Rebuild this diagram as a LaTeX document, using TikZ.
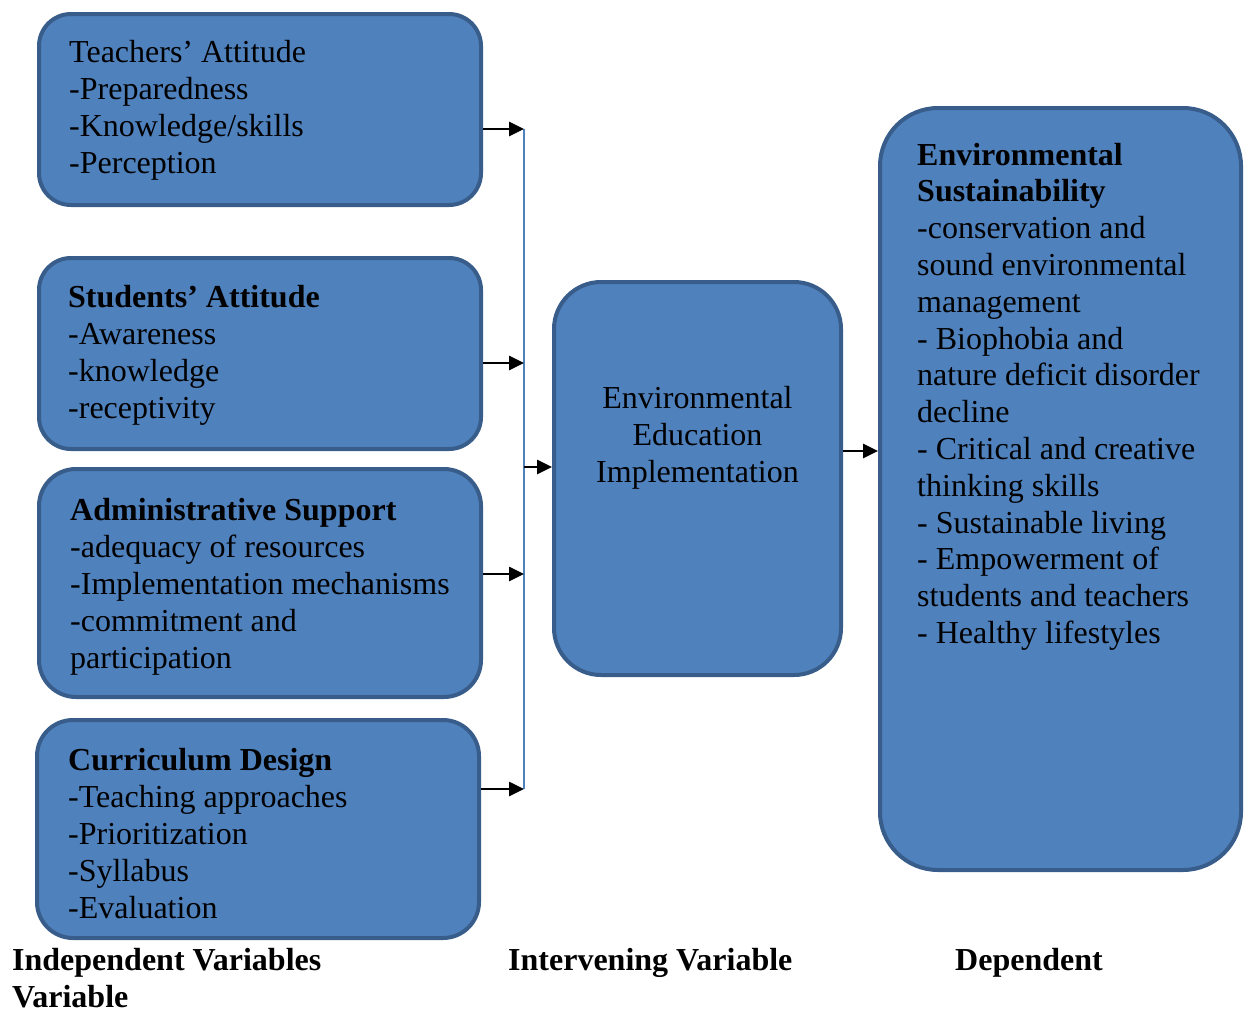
\documentclass[tikz,border=0pt]{standalone}
\usepackage{fontspec}
\setmainfont{Liberation Serif}
\usetikzlibrary{arrows.meta}
\definecolor{boxfill}{HTML}{4F81BD}
\definecolor{boxline}{HTML}{385D8A}
\newcommand{\stack}[1]{\begin{tabular}[t]{@{}l@{}}#1\end{tabular}}
\newcommand{\cstack}[1]{\begin{tabular}[t]{@{}c@{}}#1\end{tabular}}
\begin{document}
\begin{tikzpicture}[x=1pt,y=-1pt,
  panel/.style={draw=boxline, fill=boxfill, line width=4pt, inner sep=0pt},
  txt/.style={inner sep=0pt, anchor=base west, font=\fontsize{32}{37}\selectfont},
  caption/.style={inner sep=0pt, anchor=base west, font=\fontsize{32}{37}\selectfont\bfseries},
  arr/.style={line width=2.6pt, -{Triangle[length=15pt,width=14pt]}},
  spine/.style={draw=boxfill, line width=2pt}]
\useasboundingbox (0,0) rectangle (1251,1012);

% panels
\node[panel, rounded corners=32pt, minimum width=442pt, minimum height=191pt] (teach) at (260,109.5) {};
\node[panel, rounded corners=32pt, minimum width=442pt, minimum height=191pt] (stud) at (260,353.5) {};
\node[panel, rounded corners=37pt, minimum width=442pt, minimum height=228pt] (admin) at (260,583) {};
\node[panel, rounded corners=36pt, minimum width=442pt, minimum height=218pt] (curr) at (258,829) {};
\node[panel, rounded corners=47pt, minimum width=287pt, minimum height=393pt] (mid) at (697.5,478.5) {};
\node[panel, rounded corners=58pt, minimum width=361pt, minimum height=762pt] (dep) at (1060.5,489) {};

% panel texts
\node[txt] (teachT) at (69,62) {\stack{Teachers’ Attitude\\-Preparedness\\-Knowledge/skills\\-Perception}};
\node[txt] (studT) at (68,307) {\stack{\textbf{Students’ Attitude}\\-Awareness\\-knowledge\\-receptivity}};
\node[txt] (adminT) at (70,520) {\stack{\textbf{Administrative Support}\\-adequacy of resources\\-Implementation mechanisms\\-commitment and\\participation}};
\node[txt] (currT) at (68,770) {\stack{\textbf{Curriculum Design}\\-Teaching approaches\\-Prioritization\\-Syllabus\\-Evaluation}};
\node[txt, anchor=base] (midT) at (697.5,408) {\cstack{Environmental\\Education\\Implementation}};
\node[txt, font=\fontsize{32}{36.8}\selectfont] (depT) at (917,165) {\stack{\textbf{Environmental}\\\textbf{Sustainability}\\-conservation and\\sound environmental\\management\\- Biophobia and\\nature deficit disorder\\decline\\- Critical and creative\\thinking skills\\- Sustainable living\\- Empowerment of\\students and teachers\\- Healthy lifestyles}};

% column captions
\node[caption] (capI) at (12,970) {Independent Variables};
\node[caption] (capV) at (12,1007) {Variable};
\node[caption] (capM) at (508,970) {Intervening Variable};
\node[caption] (capD) at (955,970) {Dependent};

% junction points on the collecting line
\coordinate (j1) at (524,129);
\coordinate (j2) at (524,363);
\coordinate (j3) at (524,574);
\coordinate (j4) at (524,789);
\coordinate (jm) at (524,467);

\draw[spine] (j1) -- (j4);
\draw[arr] (teach.east |- j1) -- (j1);
\draw[arr] (stud.east |- j2) -- (j2);
\draw[arr] (admin.east |- j3) -- (j3);
\draw[arr] (curr.east |- j4) -- (j4);
\draw[arr] (jm) -- (mid.west |- jm);
\coordinate (mo) at (mid.east |- 0,451);
\draw[arr] (mo) -- (dep.west |- mo);
\end{tikzpicture}
\end{document}
